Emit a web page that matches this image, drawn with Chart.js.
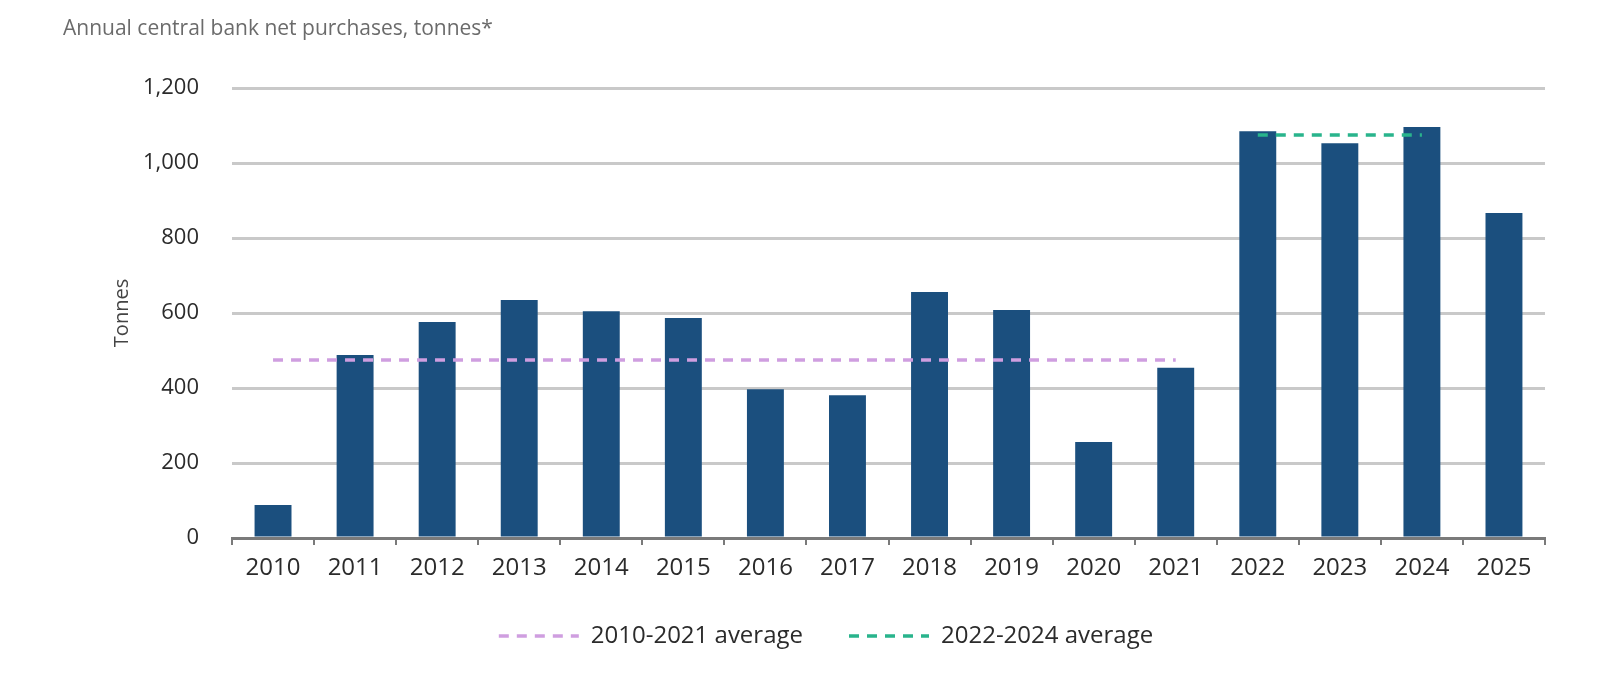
<!DOCTYPE html>
<html>
<head>
<meta charset="utf-8">
<title>Annual central bank net purchases</title>
<script src="https://cdn.jsdelivr.net/npm/chart.js@4.4.1/dist/chart.umd.min.js"></script>
<style>
  html, body { margin: 0; padding: 0; background: #fff; }
  #wrap { width: 1600px; height: 676px; }
</style>
</head>
<body>
<div id="wrap"><canvas id="chart" width="1600" height="676"></canvas></div>
<script>
// values
const years = ["2010", "2011", "2012", "2013", "2014", "2015", "2016", "2017",
  "2018", "2019", "2020", "2021", "2022", "2023", "2024", "2025"];
const purchases = [88, 488, 576, 635, 605, 587, 397, 381, 656, 608, 256, 454, 1085, 1053, 1096, 867];
const avg2010to2021 = [475, 475, 475, 475, 475, 475, 475, 475, 475, 475, 475, 475, null, null, null, null];
const avg2022to2024 = [null, null, null, null, null, null, null, null, null, null, null, null, 1075, 1075, 1075, null];
const yTicks = [0, 200, 400, 600, 800, 1000, 1200];

const chartTitle = "Annual central bank net purchases, tonnes*";
const fontFamily = "'Open Sans', 'Noto Sans', sans-serif";

// small plugin for the top-left heading
const headingPlugin = {
  id: "heading",
  afterDraw(chart) {
    const c = chart.ctx;
    c.save();
    c.font = "21px " + fontFamily;
    c.fillStyle = "#6b6b6b";
    c.textBaseline = "middle";
    c.textAlign = "left";
    c.fillText(chartTitle, 63, 29);
    c.restore();
  }
};

// legend items for the two dashed average lines, keeping their dash
function legendLabels(chart) {
  const items = Chart.defaults.plugins.legend.labels.generateLabels(chart);
  return items
    .filter(item => item.datasetIndex > 0)
    .map(item => {
      const ds = chart.data.datasets[item.datasetIndex];
      item.lineDash = ds.borderDash;
      item.strokeStyle = ds.borderColor;
      item.lineWidth = ds.borderWidth;
      item.pointStyle = "line";
      return item;
    })
    .sort((a, b) => a.datasetIndex - b.datasetIndex);
}

const ctx = document.getElementById("chart").getContext("2d");
const chart = new Chart(ctx, {
  type: "bar",
  data: {
    labels: years,
    datasets: [
      {
        label: "Net purchases",
        data: purchases,
        backgroundColor: "#1b4f7e",
        categoryPercentage: 0.45,
        barPercentage: 1.0,
        order: 2
      },
      {
        type: "line",
        label: "2010-2021 average",
        data: avg2010to2021,
        borderColor: "#cf9ee0",
        backgroundColor: "#cf9ee0",
        borderWidth: 3.5,
        borderDash: [10, 8],
        pointRadius: 0,
        fill: false,
        order: 1
      },
      {
        type: "line",
        label: "2022-2024 average",
        data: avg2022to2024,
        borderColor: "#29b48c",
        backgroundColor: "#29b48c",
        borderWidth: 3.5,
        borderDash: [10, 8],
        pointRadius: 0,
        fill: false,
        order: 0
      }
    ]
  },
  options: {
    responsive: false,
    animation: false,
    devicePixelRatio: 1,
    layout: {
      padding: { top: 88, left: 107, right: 55, bottom: 18 }
    },
    plugins: {
      title: { display: false },
      tooltip: { enabled: false },
      legend: {
        display: true,
        position: "bottom",
        labels: {
          generateLabels: legendLabels,
          usePointStyle: true,
          pointStyle: "line",
          pointStyleWidth: 80,
          padding: 46,
          color: "#2b2b2b",
          font: { family: fontFamily, size: 24 }
        }
      }
    },
    scales: {
      x: {
        grid: {
          offset: true,
          drawOnChartArea: false,
          drawTicks: true,
          tickLength: 7,
          color: "#7a7a7a",
          lineWidth: 2
        },
        border: { display: true, color: "#7a7a7a", width: 3 },
        ticks: {
          color: "#2b2b2b",
          padding: 9,
          maxRotation: 0,
          font: { family: fontFamily, size: 24 }
        },
        afterFit: (scale) => { scale.height = 40; }
      },
      y: {
        min: 0,
        max: 1200,
        afterBuildTicks: (scale) => { scale.ticks = yTicks.map(v => ({ value: v })); },
        grid: {
          drawTicks: false,
          color: "#c9c9c9",
          lineWidth: 3
        },
        border: { display: false },
        ticks: {
          color: "#2b2b2b",
          padding: 33,
          font: { family: fontFamily, size: 22 },
          callback: (v) => Number(v).toLocaleString("en-US")
        },
        title: {
          display: true,
          text: "Tonnes",
          color: "#444",
          padding: { top: 3, bottom: 0 },
          font: { family: fontFamily, size: 20 }
        },
        afterFit: (scale) => { scale.width = 125; }
      }
    }
  },
  plugins: [headingPlugin]
});
</script>
</body>
</html>
